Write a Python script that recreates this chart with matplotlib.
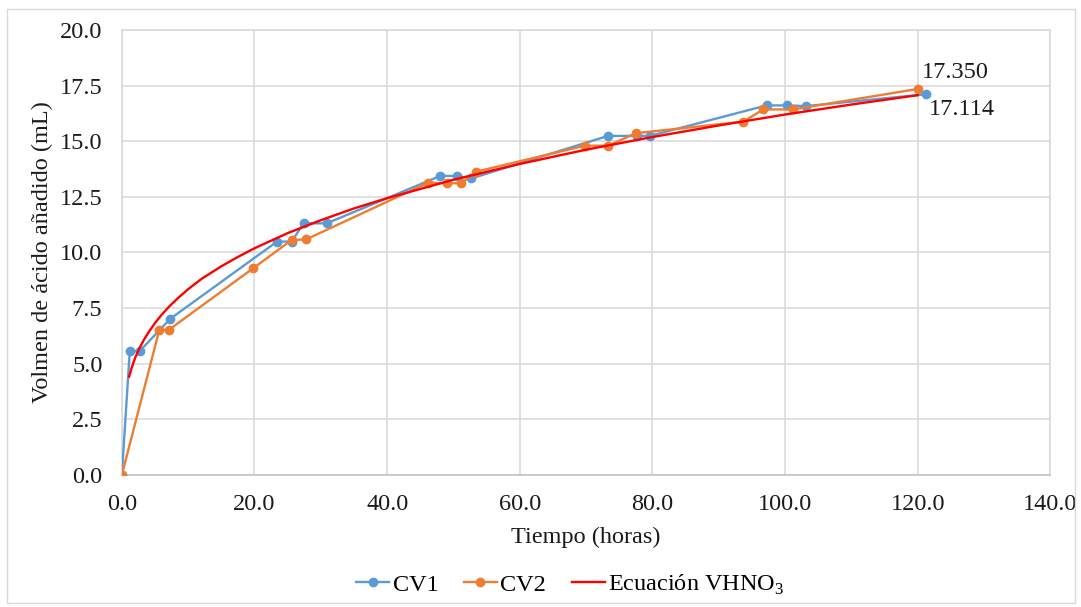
import matplotlib
matplotlib.use('Agg')
import matplotlib.pyplot as plt
from matplotlib.patches import Rectangle
from matplotlib.ticker import MultipleLocator, FormatStrFormatter

plt.rcParams['font.family'] = ['Liberation Serif', 'DejaVu Serif']
plt.rcParams['mathtext.fontset'] = 'custom'
plt.rcParams['mathtext.rm'] = 'Liberation Serif'

# ── datos ───────────────────────────────────────────────────────
t_cv1 = [0.0, 1.2, 2.7, 7.3, 23.4, 25.6, 27.4, 30.9, 48.0, 50.5, 52.7,
         73.3, 77.6, 79.6, 97.2, 100.3, 103.2, 121.3]
v_cv1 = [0.0, 5.57, 5.57, 7.02, 10.49, 10.49, 11.31, 11.31, 13.44, 13.44, 13.33,
         15.24, 15.24, 15.24, 16.61, 16.61, 16.58, 17.114]

t_cv2 = [0.0, 5.65, 7.07, 19.8, 25.6, 27.8, 46.2, 49.0, 51.2, 53.4,
         69.8, 73.3, 77.5, 93.7, 96.7, 101.2, 120.0]
v_cv2 = [0.0, 6.52, 6.52, 9.29, 10.56, 10.59, 13.14, 13.11, 13.11, 13.63,
         14.80, 14.80, 15.36, 15.88, 16.43, 16.43, 17.350]

t_ec = [1.1, 1.5, 2.0, 2.6, 3.3, 4.0, 5.0, 6.0, 7.2, 8.5, 10, 12, 15, 17.5, 20,
        25, 30, 35, 40, 50, 60, 70, 80, 90, 100, 110, 120]
v_ec = [4.42, 4.83, 5.26, 5.66, 6.06, 6.40, 6.83, 7.20, 7.59, 7.96, 8.35, 8.81,
        9.38, 9.80, 10.19, 10.87, 11.45, 11.98, 12.44, 13.27, 13.98, 14.62,
        15.19, 15.71, 16.20, 16.65, 17.07]

fig = plt.figure(figsize=(10.81, 6.07), dpi=100)
fig.patch.set_facecolor('white')
ax = fig.add_axes([0.1127, 0.2175, 0.8590, 0.7331])

ax.plot(t_cv1, v_cv1, color='#5B9BD5', linewidth=1.7, marker='o', markersize=6,
        label='CV1', zorder=3)
ax.plot(t_cv2, v_cv2, color='#ED7D31', linewidth=1.7, marker='o', markersize=6,
        label='CV2', zorder=4)
ax.plot(t_ec, v_ec, color='#FF0000', linewidth=1.7, label=r'Ecuación VHNO$_{3}$', zorder=5)

# etiquetas de valor final
ax.text(t_cv2[-1] + 0.6, v_cv2[-1] + 0.25, f'{v_cv2[-1]:.3f}', fontsize=17.5,
        ha='left', va='bottom', color='#1a1a1a')
ax.text(t_cv1[-1] + 0.3, v_cv1[-1] - 0.2, f'{v_cv1[-1]:.3f}', fontsize=17.5,
        ha='left', va='top', color='#1a1a1a')

ax.set_xlim(0, 140)
ax.set_ylim(0, 20)
ax.xaxis.set_major_locator(MultipleLocator(20))
ax.yaxis.set_major_locator(MultipleLocator(2.5))
ax.xaxis.set_major_formatter(FormatStrFormatter('%.1f'))
ax.yaxis.set_major_formatter(FormatStrFormatter('%.1f'))
ax.tick_params(axis='both', length=0, labelsize=17.5, colors='#1a1a1a')
ax.tick_params(axis='x', pad=14)
ax.tick_params(axis='y', pad=14)

ax.grid(True, color='#d9d9d9', linewidth=1.1)
ax.set_axisbelow(True)
for s in ax.spines.values():
    s.set_color('#d9d9d9')
    s.set_linewidth(1.1)
ax.spines['bottom'].set_color('#bfbfbf')

ax.set_xlabel('Tiempo (horas)', fontsize=17.5, color='#1a1a1a', labelpad=8)
ax.set_ylabel('Volmen de ácido añadido (mL)', fontsize=17.5, color='#1a1a1a', labelpad=5)

ax.legend(loc='center', bbox_to_anchor=(0.483, -0.247), ncol=3, frameon=False,
          fontsize=17.5, handlelength=1.35, handletextpad=0.15, columnspacing=1.05)

# borde del área del gráfico
fig.patches.append(Rectangle((7 / 1081, 1 - 603 / 607), 1068 / 1081, 594 / 607,
                             transform=fig.transFigure, fill=False,
                             edgecolor='#d9d9d9', linewidth=1.0))

plt.savefig('out.png', dpi=100, facecolor='white')
plt.close()
